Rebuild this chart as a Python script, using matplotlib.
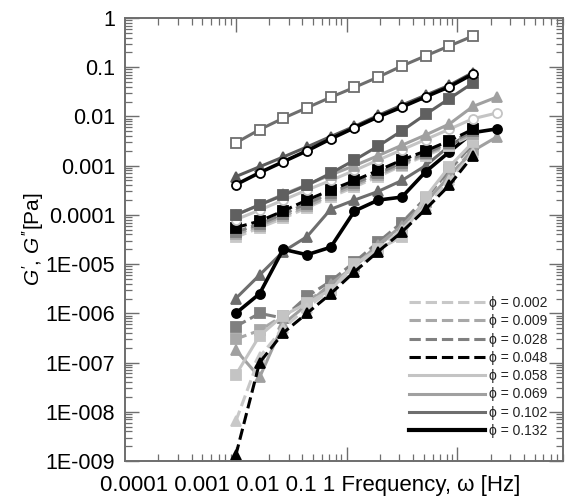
import matplotlib
matplotlib.use("Agg")
import matplotlib.pyplot as plt
from matplotlib.lines import Line2D
from matplotlib.ticker import LogLocator, NullFormatter, FixedLocator

plt.rcParams['font.family'] = ['Liberation Sans', 'DejaVu Sans']
plt.rcParams['mathtext.fontset'] = 'custom'
plt.rcParams['mathtext.it'] = 'Liberation Sans:italic'
plt.rcParams['mathtext.rm'] = 'Liberation Sans'
for a in ("xtick", "ytick"):
    plt.rcParams[a + ".direction"] = "in"
    plt.rcParams[a + ".color"] = "#6e6e6e"
    plt.rcParams[a + ".major.size"] = 10
    plt.rcParams[a + ".minor.size"] = 5
    plt.rcParams[a + ".major.width"] = 1.0
    plt.rcParams[a + ".minor.width"] = 0.9
plt.rcParams["xtick.top"] = True
plt.rcParams["ytick.right"] = True

# frequencies [Hz]
freq = [0.01, 0.0164, 0.0268, 0.0439, 0.0719, 0.118, 0.193, 0.316, 0.517, 0.846, 1.385]
freq_ext = [0.01, 0.0164, 0.0268, 0.0439, 0.0719, 0.118, 0.193, 0.316, 0.517, 0.846, 1.385, 2.3]

phi_labels = ["0.002", "0.009", "0.028", "0.048", "0.058", "0.069", "0.102", "0.132"]
phi_colors = ["#c8c8c8", "#a8a8a8", "#808080", "#000000", "#c4c4c4", "#a0a0a0", "#6e6e6e", "#000000"]
phi_styles = ["--", "--", "--", "--", "-", "-", "-", "-"]
phi_widths = [2.2, 2.2, 2.2, 2.2, 2.2, 2.2, 2.2, 3.0]

# G'' (loss modulus)
g2_0002 = [3.5e-5, 5.5e-5, 8.5e-5, 1.4e-4, 2.3e-4, 3.7e-4, 6.0e-4, 1.0e-3, 1.6e-3, 2.5e-3, 4.2e-3]
g2_0009 = [4.0e-5, 6.0e-5, 9.5e-5, 1.5e-4, 2.5e-4, 4.0e-4, 6.5e-4, 1.05e-3, 1.7e-3, 2.7e-3, 4.5e-3]
g2_0028 = [4.5e-5, 6.5e-5, 1.05e-4, 1.7e-4, 2.8e-4, 4.4e-4, 7.0e-4, 1.15e-3, 1.8e-3, 2.9e-3, 5.0e-3]
g2_0048 = [5.5e-5, 7.5e-5, 1.2e-4, 2.0e-4, 3.2e-4, 5.0e-4, 8.0e-4, 1.3e-3, 2.0e-3, 3.2e-3, 5.5e-3]
g2_0058 = [8.0e-5, 1.25e-4, 2.0e-4, 3.2e-4, 5.0e-4, 8.0e-4, 1.3e-3, 2.1e-3, 3.4e-3, 5.5e-3, 9.0e-3, 1.18e-2]
g2_0069 = [1.0e-4, 1.6e-4, 2.6e-4, 4.1e-4, 6.5e-4, 1.0e-3, 1.6e-3, 2.6e-3, 4.2e-3, 7.0e-3, 1.6e-2, 2.5e-2]
g2_0102 = [2.9e-3, 5.4e-3, 9.2e-3, 1.5e-2, 2.45e-2, 3.9e-2, 6.3e-2, 0.106, 0.17, 0.27, 0.43]
g2_0132 = [4.1e-4, 7.2e-4, 1.2e-3, 2.0e-3, 3.5e-3, 5.9e-3, 9.8e-3, 1.55e-2, 2.5e-2, 4.0e-2, 7.3e-2]
g2_0132b = [6.0e-4, 9.5e-4, 1.5e-3, 2.4e-3, 3.9e-3, 6.3e-3, 1.05e-2, 1.7e-2, 2.7e-2, 4.3e-2, 7.8e-2]

# G' (storage modulus)
g1_0002 = [6.4e-9, 1.3e-7, 5.0e-7, 1.3e-6, 3.0e-6, 8.0e-6, 2.0e-5, 5.0e-5, 1.5e-4, 5.0e-4, 1.8e-3]
g1_0009 = [3.0e-7, 4.5e-7, 9.0e-7, 1.8e-6, 3.5e-6, 9.0e-6, 2.3e-5, 6.0e-5, 1.8e-4, 6.0e-4, 2.2e-3]
g1_0028 = [5.4e-7, 1.0e-6, 8.0e-7, 2.2e-6, 4.5e-6, 1.1e-5, 2.8e-5, 7.0e-5, 2.2e-4, 8.0e-4, 2.8e-3]
g1_0048 = [1.3e-9, 1.0e-7, 4.0e-7, 1.0e-6, 2.5e-6, 7.0e-6, 1.8e-5, 4.5e-5, 1.3e-4, 4.0e-4, 1.6e-3]
g1_0058 = [5.6e-8, 3.5e-7, 9.0e-7, 1.6e-6, 3.0e-6, 1.0e-5, 2.0e-5, 3.6e-5, 2.3e-4, 9.5e-4, 3.0e-3]
g1_0069 = [1.8e-7, 5.0e-8, 6.0e-7, 1.5e-6, 4.0e-6, 9.0e-6, 2.5e-5, 6.0e-5, 1.8e-4, 6.0e-4, 2.0e-3, 3.9e-3]
g1_0102 = [2.0e-6, 6.0e-6, 1.8e-5, 3.6e-5, 1.3e-4, 2.0e-4, 3.0e-4, 5.0e-4, 1.0e-3, 2.5e-3, 5.0e-3]
g1_0102b = [1.0e-4, 1.6e-4, 2.5e-4, 4.0e-4, 7.0e-4, 1.3e-3, 2.5e-3, 5.1e-3, 1.1e-2, 2.3e-2, 4.8e-2]
g1_0132 = [1.0e-6, 2.5e-6, 2.0e-5, 1.55e-5, 2.2e-5, 1.2e-4, 2.0e-4, 2.3e-4, 7.5e-4, 1.9e-3, 4.7e-3, 5.6e-3]

fig = plt.figure(figsize=(5.68, 5.03), dpi=100)
ax = fig.add_axes([125 / 568, 1 - 461 / 503, 438 / 568, 443 / 503])


def series(x, y, i, marker, filled=True, color=None):
    c = color if color else phi_colors[i]
    ax.plot(x, y, ls=phi_styles[i], color=c, lw=phi_widths[i] if i != 7 else 2.6,
            marker=marker, ms=6.5, mec=c, mfc=c if filled else "white", mew=1.3)


# lower group: G'
series(freq, g1_0009, 1, "s")
series(freq, g1_0028, 2, "s")
series(freq_ext, g1_0069, 5, "^")
series(freq, g1_0058, 4, "s")
series(freq, g1_0002, 0, "^")
series(freq, g1_0048, 3, "^")
series(freq, g1_0102, 6, "^")
series(freq_ext, g1_0132, 7, "o")

# middle group: G''
series(freq, g2_0002, 0, "s")
series(freq, g2_0009, 1, "s")
series(freq, g2_0028, 2, "s")
series(freq, g2_0048, 3, "s")
series(freq_ext, g2_0058, 4, "o", filled=False)
series(freq_ext, g2_0069, 5, "^")
series(freq, g1_0102b, 6, "s", color="#606060")

# upper group
series(freq, g2_0132b, 6, "^", color="#5a5a5a")
series(freq, g2_0132, 7, "o", filled=False)
series(freq, g2_0102, 6, "s", filled=False)

ax.set_xscale("log")
ax.set_yscale("log")
ax.set_xlim(0.001, 9.0)
ax.set_ylim(1e-9, 1)

ax.xaxis.set_major_locator(FixedLocator([0.01, 0.1, 1]))
ax.xaxis.set_minor_locator(LogLocator(base=10, subs=range(2, 10), numticks=20))
ax.yaxis.set_minor_locator(LogLocator(base=10, subs=range(2, 10), numticks=20))
ax.xaxis.set_major_formatter(NullFormatter())
ax.xaxis.set_minor_formatter(NullFormatter())
ax.yaxis.set_minor_formatter(NullFormatter())

ytick_vals = [1, 0.1, 0.01, 0.001, 0.0001, 1e-5, 1e-6, 1e-7, 1e-8, 1e-9]
ytick_text = ["1", "0.1", "0.01", "0.001", "0.0001", "1E-005", "1E-006", "1E-007", "1E-008", "1E-009"]
ax.set_yticks(ytick_vals)
ax.set_yticklabels(ytick_text, fontsize=15.5)
ax.tick_params(axis="y", which="major", pad=7)
ax.tick_params(axis="y", labelcolor="black")

for s in ax.spines.values():
    s.set_color("#6e6e6e")
    s.set_linewidth(1.4)

ax.set_ylabel("$G'$, $G''$[Pa]", fontsize=15, labelpad=0)
fig.text(310 / 568, 1 - 486 / 503, "0.0001 0.001 0.01 0.1 1 Frequency, \u03c9 [Hz]",
         ha="center", va="center", fontsize=16)

handles = [Line2D([0], [0], color=phi_colors[i], ls=phi_styles[i], lw=phi_widths[i])
           for i in range(len(phi_labels))]
labels = ["\u03d5 = " + p for p in phi_labels]
leg = ax.legend(handles, labels, loc="upper left", frameon=False,
                bbox_to_anchor=(402 / 568, 1 - 289 / 503), bbox_transform=fig.transFigure,
                borderpad=0, handlelength=5.5, handletextpad=0.25, labelspacing=0.31,
                prop={"family": ["Liberation Sans Narrow", "DejaVu Sans Condensed", "Liberation Sans"],
                      "size": 10})
for t in leg.get_texts():
    t.set_color("#222222")

fig.savefig("out.png", dpi=100)
